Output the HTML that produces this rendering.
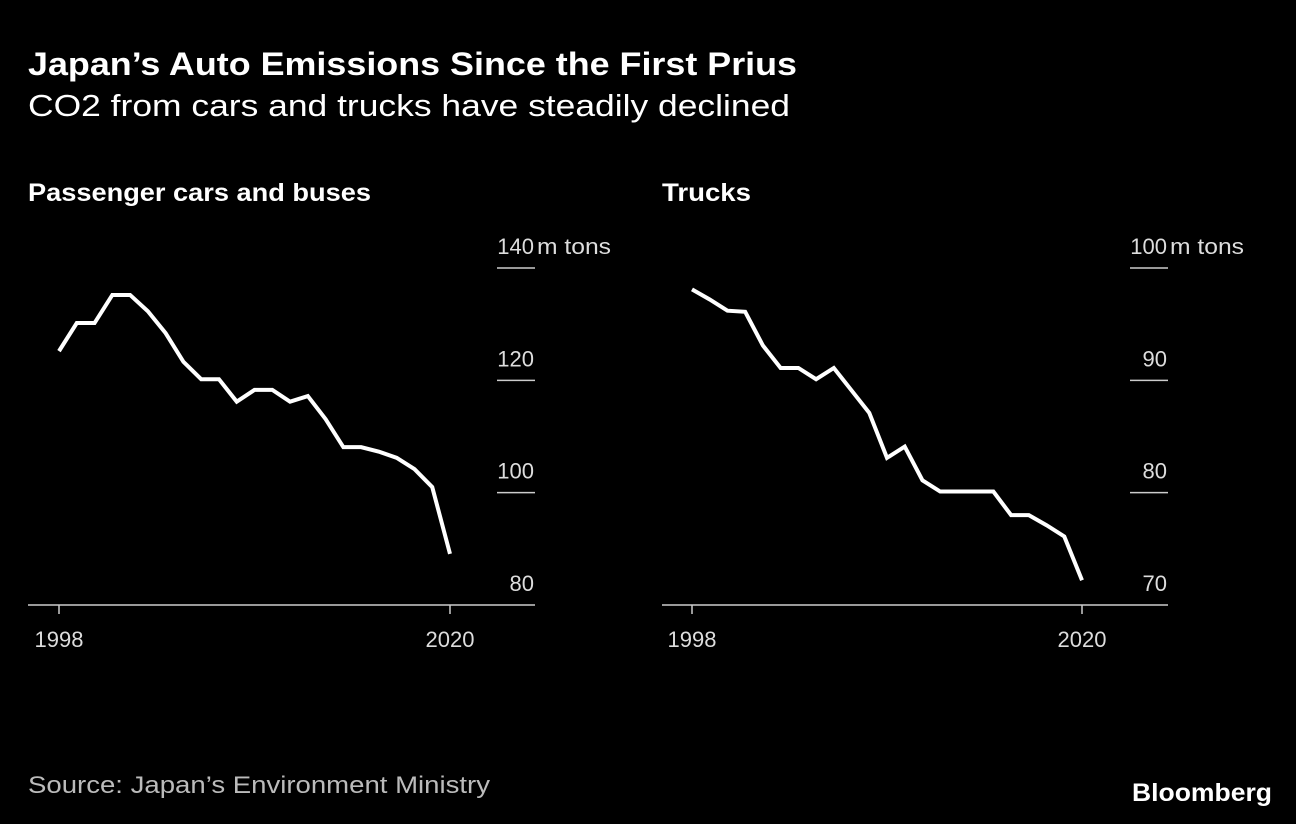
<!DOCTYPE html>
<html><head><meta charset="utf-8"><style>
body{margin:0;background:#000;width:1296px;height:824px;overflow:hidden;font-family:"Liberation Sans",sans-serif;color:#fff}
</style></head><body>
<svg width="1296" height="824" style="position:absolute;left:0;top:0">
<text x="28" y="75" font-size="32" font-weight="bold" fill="#fff" textLength="769" lengthAdjust="spacingAndGlyphs">Japan’s Auto Emissions Since the First Prius</text>
<text x="28" y="116" font-size="31" fill="#fff" textLength="762" lengthAdjust="spacingAndGlyphs">CO2 from cars and trucks have steadily declined</text>
<text x="28" y="201" font-size="25" font-weight="bold" fill="#fff" textLength="343" lengthAdjust="spacingAndGlyphs">Passenger cars and buses</text>
<text x="662" y="201" font-size="25" font-weight="bold" fill="#fff" textLength="89" lengthAdjust="spacingAndGlyphs">Trucks</text>
<g id="p1"></g><g id="p2"></g>
<text x="28" y="793" font-size="24" fill="#bbb" textLength="462" lengthAdjust="spacingAndGlyphs">Source: Japan’s Environment Ministry</text>
<text x="1132" y="801" font-size="25" font-weight="bold" fill="#fff" textLength="140" lengthAdjust="spacingAndGlyphs">Bloomberg</text>
</svg>
<script>
const years=[];for(let y=1998;y<=2020;y++)years.push(y);
const carValues=[125.2,130.2,130.2,135.2,135.2,132.3,128.4,123.3,120.2,120.2,116.2,118.3,118.3,116.2,117.2,113.1,108.1,108.1,107.3,106.2,104.2,101,89.1];
const truckValues=[98.1,97.2,96.2,96.1,93.1,91.1,91.1,90.1,91.1,89.1,87.1,83.1,84.1,81.1,80.1,80.1,80.1,80.1,78,78,77.1,76.1,72.2];
const carTicks=[80,100,120,140];
const truckTicks=[70,80,90,100];
const xLabels=[1998,2020];
const NS="http://www.w3.org/2000/svg";
function mk(g,t,a,txt){const e=document.createElementNS(NS,t);for(const k in a)e.setAttribute(k,a[k]);if(txt!=null)e.textContent=txt;g.appendChild(e);return e;}
function panel(id,x0,x1,axL,axR,vals,ticks,name){
 const g=document.getElementById(id);
 const ymin=ticks[0],ymax=ticks[ticks.length-1];
 const X=y=>x0+(y-years[0])/(years[years.length-1]-years[0])*(x1-x0);
 const Y=v=>605-(v-ymin)/(ymax-ymin)*337;
 ticks.forEach((t,i)=>{
  const y=Y(t);
  if(i>0){const l=mk(g,'line',{x1:axR-38,x2:axR,y1:y,y2:y,stroke:'#ccc','stroke-width':1.5});
  }
  const tx=mk(g,'text',{x:axR-1,y:y-14,'font-size':22,fill:'#ddd','text-anchor':'end'},String(t));
  
  if(i===ticks.length-1){const u=mk(g,'text',{x:axR+2,y:y-14,'font-size':22,fill:'#ddd',textLength:74,lengthAdjust:'spacingAndGlyphs'},'m tons');
  }
 });
 const b=mk(g,'line',{x1:axL,x2:axR,y1:605,y2:605,stroke:'#ccc','stroke-width':1.5});
 
 xLabels.forEach(yr=>{
  const t=mk(g,'line',{x1:X(yr),x2:X(yr),y1:605,y2:614,stroke:'#ccc','stroke-width':1.5});
  
  const l=mk(g,'text',{x:X(yr),y:647,'font-size':22,fill:'#ddd','text-anchor':'middle'},String(yr));
  
 });
 const p=mk(g,'polyline',{points:vals.map((v,i)=>X(years[i])+','+Y(v)).join(' '),fill:'none',stroke:'#fff','stroke-width':4,'stroke-linejoin':'miter'});
 
}
panel('p1',59,450,28,535,carValues,carTicks,'cars-line');
panel('p2',692,1082,662,1168,truckValues,truckTicks,'trucks-line');
</script>
</body></html>
